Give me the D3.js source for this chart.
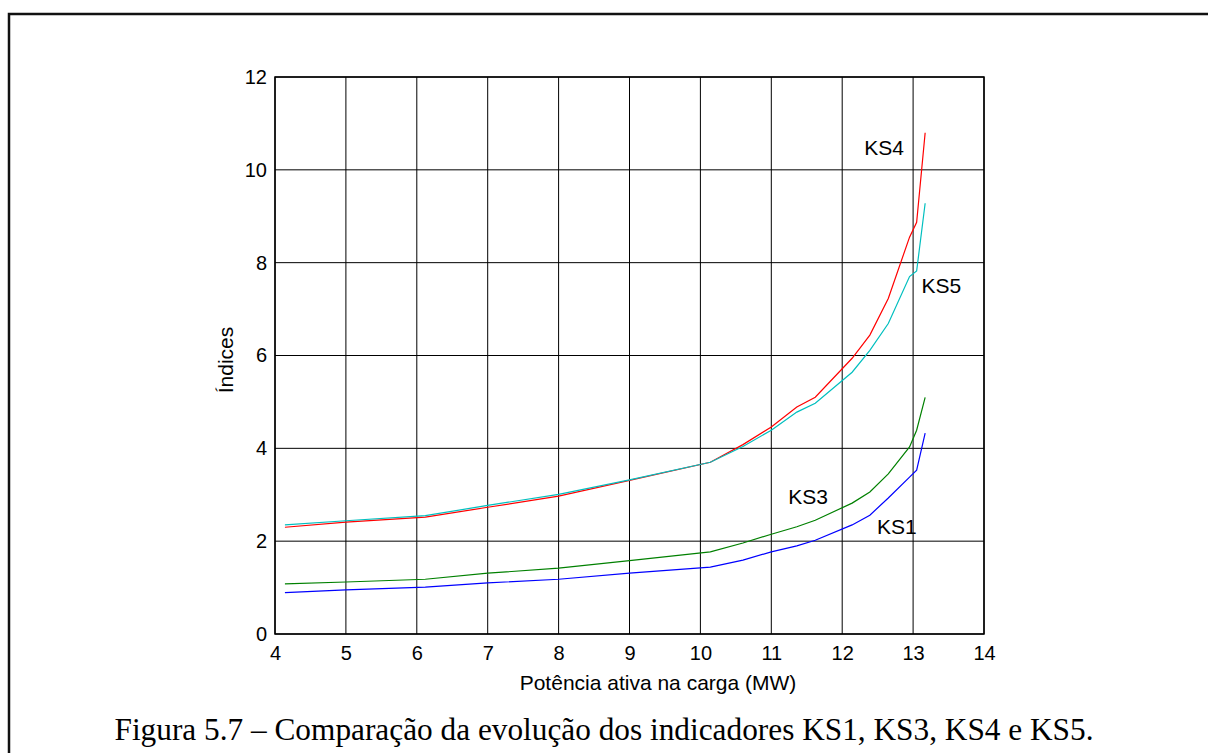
<!DOCTYPE html>
<html>
<head>
<meta charset="utf-8">
<script src="https://cdn.jsdelivr.net/npm/d3@7"></script>
<style>
  body { margin: 0; background: #fff; }
  svg { display: block; }
</style>
</head>
<body>
<div id="chart"></div>
<script>
// load power (MW) at each computed point
var potencia = [4.14, 5.0, 6.12, 7.0, 8.0, 9.0, 10.14, 10.6, 11.0, 11.36, 11.62, 12.14, 12.39, 12.65, 12.95, 13.05, 13.17];
var ks1 = [0.89, 0.95, 1.01, 1.10, 1.18, 1.31, 1.44, 1.59, 1.77, 1.90, 2.02, 2.35, 2.56, 2.93, 3.38, 3.53, 4.33];
var ks3 = [1.08, 1.12, 1.18, 1.31, 1.42, 1.58, 1.77, 1.96, 2.15, 2.31, 2.45, 2.82, 3.06, 3.45, 4.03, 4.39, 5.10];
var ks4 = [2.30, 2.41, 2.52, 2.73, 2.97, 3.31, 3.70, 4.08, 4.46, 4.89, 5.10, 5.94, 6.44, 7.23, 8.55, 8.87, 10.80];
var ks5 = [2.35, 2.44, 2.55, 2.77, 3.01, 3.32, 3.70, 4.04, 4.39, 4.78, 4.97, 5.64, 6.11, 6.69, 7.70, 7.82, 9.28];

var xTicks = [4, 5, 6, 7, 8, 9, 10, 11, 12, 13, 14];
var yTicks = [0, 2, 4, 6, 8, 10, 12];

var width = 1208, height = 753;
var margin = {left: 275, right: 224, top: 77, bottom: 119};
var sans = "Liberation Sans, Arial, sans-serif";

var svg = d3.select("#chart").append("svg")
    .attr("width", width)
    .attr("height", height);

// outer figure frame
svg.append("rect")
    .attr("x", 9).attr("y", 14)
    .attr("width", 1250).attr("height", 800)
    .attr("fill", "none")
    .attr("stroke", "#111")
    .attr("stroke-width", 2.5);

var x = d3.scaleLinear().domain([4, 14]).range([margin.left, width - margin.right]);
var y = d3.scaleLinear().domain([0, 12]).range([height - margin.bottom, margin.top]);

var g = svg.append("g");

// grid
g.selectAll(".vgrid").data(xTicks).enter().append("line")
    .attr("x1", d => x(d)).attr("x2", d => x(d))
    .attr("y1", y(0)).attr("y2", y(12))
    .attr("stroke", "#000").attr("stroke-width", 1);
g.selectAll(".hgrid").data(yTicks).enter().append("line")
    .attr("x1", x(4)).attr("x2", x(14))
    .attr("y1", d => y(d)).attr("y2", d => y(d))
    .attr("stroke", "#000").attr("stroke-width", 1);

// axes (labels only, ticks drawn by grid)
var xAxis = d3.axisBottom(x).tickValues(xTicks).tickSize(0).tickPadding(12);
var yAxis = d3.axisLeft(y).tickValues(yTicks).tickSize(0).tickPadding(8);

svg.append("g").attr("transform", "translate(0," + y(0) + ")").call(xAxis)
    .call(a => a.select(".domain").remove())
    .selectAll("text").attr("font-family", sans).attr("font-size", 20).attr("fill", "#000");
svg.append("g").attr("transform", "translate(" + x(4) + ",0)").call(yAxis)
    .call(a => a.select(".domain").remove())
    .selectAll("text").attr("font-family", sans).attr("font-size", 20).attr("fill", "#000");

// plot box
svg.append("rect")
    .attr("x", x(4)).attr("y", y(12))
    .attr("width", x(14) - x(4)).attr("height", y(0) - y(12))
    .attr("fill", "none").attr("stroke", "#000").attr("stroke-width", 1.5);

var line = d3.line()
    .x((d, i) => x(potencia[i]))
    .y(d => y(d));

var series = [
  {name: "KS4", values: ks4, color: "#ff0000"},
  {name: "KS5", values: ks5, color: "#00bfbf"},
  {name: "KS3", values: ks3, color: "#008000"},
  {name: "KS1", values: ks1, color: "#0000ff"}
];

svg.selectAll(".serie").data(series).enter().append("path")
    .attr("d", d => line(d.values))
    .attr("fill", "none")
    .attr("stroke", d => d.color)
    .attr("stroke-width", 1.2);

// curve labels
var labels = [
  {text: "KS4", px: 12.31, py: 10.32},
  {text: "KS5", px: 13.12, py: 7.34},
  {text: "KS3", px: 11.24, py: 2.80},
  {text: "KS1", px: 12.49, py: 2.15}
];
svg.selectAll(".lbl").data(labels).enter().append("text")
    .attr("x", d => x(d.px)).attr("y", d => y(d.py))
    .attr("font-family", sans)
    .attr("font-size", 21)
    .text(d => d.text);

// axis titles
svg.append("text")
    .attr("x", 658).attr("y", 690)
    .attr("text-anchor", "middle")
    .attr("font-family", sans)
    .attr("font-size", 21)
    .text("Potência ativa na carga (MW)");

svg.append("text")
    .attr("transform", "translate(233,360) rotate(-90)")
    .attr("text-anchor", "middle")
    .attr("font-family", sans)
    .attr("font-size", 21)
    .text("Índices");

// caption
svg.append("text")
    .attr("x", 604).attr("y", 740)
    .attr("text-anchor", "middle")
    .attr("font-family", "Liberation Serif, Times New Roman, serif")
    .attr("font-size", 31)
    .attr("textLength", 979)
    .attr("lengthAdjust", "spacingAndGlyphs")
    .text("Figura 5.7 – Comparação da evolução dos indicadores KS1, KS3, KS4 e KS5.");
</script>
</body>
</html>
